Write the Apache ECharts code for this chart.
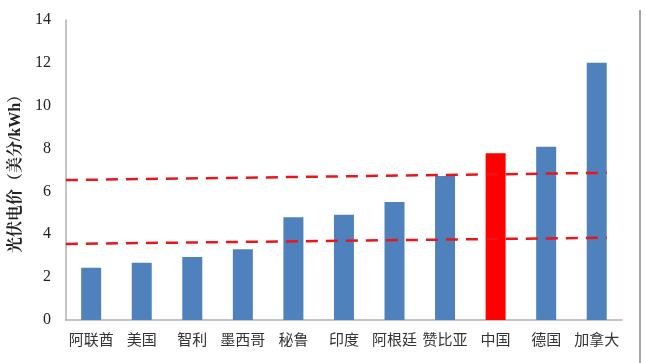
<!DOCTYPE html>
<html><head><meta charset="utf-8">
<script src="https://cdn.jsdelivr.net/npm/echarts@6/dist/echarts.min.js"></script>
<style>html,body{margin:0;padding:0;background:#fff}#c{width:646px;height:363px}</style>
</head><body><div id="c"></div>
<script>
const categories = ['阿联酋','美国','智利','墨西哥','秘鲁','印度','阿根廷','赞比亚','中国','德国','加拿大'];
const prices = [2.44, 2.67, 2.94, 3.30, 4.79, 4.91, 5.51, 6.72, 7.78, 8.09, 12.0];
const highlight = '中国';
const yTicks = [0, 2, 4, 6, 8, 10, 12, 14];
const upperLine = [[0, 6.53], [10.7, 6.87]];
const lowerLine = [[0, 3.55], [10.7, 3.84]];

const chart = echarts.init(document.getElementById('c'));
chart.setOption({
  animation: false,
  grid: {left: 63, right: 24, top: 20, bottom: 43},
  xAxis: [{
    type: 'category', data: categories,
    axisLine: {lineStyle: {color: '#b0b0b0', width: 1.5}},
    axisTick: {show: false},
    axisLabel: {color: '#333', fontSize: 15, fontFamily: 'Noto Sans CJK SC', margin: 12, interval: 0}
  }, {
    type: 'value', min: 0, max: 11, show: false
  }],
  yAxis: {
    type: 'value', min: yTicks[0], max: yTicks[yTicks.length - 1], interval: 2,
    name: '光伏电价（美分/kWh）', nameLocation: 'middle', nameGap: 39, nameRotate: 90,
    nameTextStyle: {fontSize: 16, fontWeight: 'bold', color: '#222',
      fontFamily: 'Liberation Serif, Noto Serif CJK SC, Noto Sans CJK SC'},
    axisLine: {show: true, lineStyle: {color: '#b0b0b0', width: 1.5}},
    axisTick: {show: false},
    splitLine: {show: false},
    axisLabel: {color: '#222', fontSize: 16, fontFamily: 'Liberation Serif', margin: 15}
  },
  series: [{
    type: 'bar', barWidth: 20,
    data: prices.map((v, i) => ({value: v, itemStyle: {color: categories[i] === highlight ? '#ff0000' : '#4f81bd'}}))
  }, {
    type: 'line', xAxisIndex: 1, data: upperLine, symbol: 'none',
    lineStyle: {color: '#e8161b', width: 2.5, type: [12, 8]}, z: 5
  }, {
    type: 'line', xAxisIndex: 1, data: lowerLine, symbol: 'none',
    lineStyle: {color: '#e8161b', width: 2.5, type: [12, 8]}, z: 5
  }],
  graphic: [{
    type: 'line', shape: {x1: 640, y1: 10, x2: 640, y2: 363},
    style: {stroke: '#888', lineWidth: 1.5}
  }]
});
</script></body></html>
